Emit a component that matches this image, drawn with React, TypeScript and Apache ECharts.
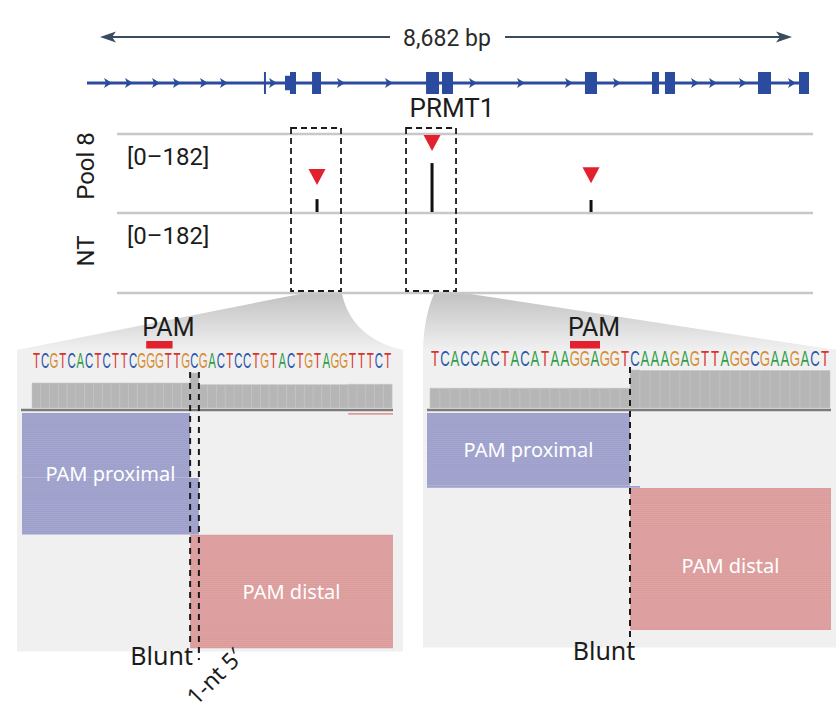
import React, { useEffect, useRef } from "react";
import * as echarts from "echarts";

// ---------------- data ----------------
const GENE_NAME = "PRMT1";
const GENE_LENGTH = 8682; // bp
// exon blocks along the gene (bp); kind: 0 = marker line, 1 = UTR, 2 = coding
const EXON_START = [2134, 2381, 2441, 2706, 4077, 4269, 5988, 6794, 6950, 8069, 8562];
const EXON_END = [2146, 2441, 2513, 2814, 4233, 4401, 6133, 6878, 7071, 8225, 8682];
const EXON_KIND = [0, 1, 2, 2, 2, 2, 2, 2, 2, 2, 2];
// strand direction marks along introns (bp)
const STRAND_MARKS = [253, 505, 830, 1082, 1407, 1647, 2237, 3054, 3632, 4642, 5219, 5796, 6373, 7311, 7528, 7888, 8478];

const TRACK_NAMES = ["Pool 8", "NT"];
const TRACK_RANGE = [0, 182];
const SITE_POS = [2766, 4149, 6061]; // bp
const POOL8_DEPTH = [32, 115, 30];
const NT_DEPTH = [0, 0, 0];
const MARKER_LEVEL = [83, 161, 87];
const ZOOMED_SITES = [0, 1];

const LEFT_SEQ = "TCGTCACTCTTCGGGTTGCGACTCCTGTACTGTAGGTTTCT";
const RIGHT_SEQ = "TCACCACTACATAAGGAGGTCAAAGAGTTAGGCGAAGACT";
const LEFT_PAM = [13, 16];
const RIGHT_PAM = [14, 17];
const LEFT_CUTS = [18, 19];
const RIGHT_CUTS = [20];
// read groups: [start base, end base, first row, row count, side (0 proximal, 1 distal)]
const LEFT_READS = [
  [-1.14, 18, 0, 32, 0],
  [-1.14, 19, 32, 28, 0],
  [18, 41.1, 60, 56, 1],
  [36, 41.1, 0, 1, 1],
];
const RIGHT_READS = [
  [-0.3, 20, 0, 36, 0],
  [-0.3, 21, 36, 1, 0],
  [20, 40.1, 37, 70, 1],
];
const SIDE_LABELS = ["PAM proximal", "PAM distal"];
const CUT_LABEL_BLUNT = "Blunt";
const CUT_LABEL_OVERHANG = "1-nt 5\u2032";

// ---------------- style ----------------
const BLUE = "#2a4b9e";
const RED = "#e3202d";
const ROW_H = 2.03;
const BASE_COLORS: Record<string, string> = { A: "#2e9d48", C: "#2d58ad", G: "#d88e35", T: "#d8342c" };
const SIDE_COLORS = ["#9ea0cc", "#dc9c9c"];
const TXT = "#1c1c1c";

function coverage(len: number, reads: number[][]) {
  const out: number[][] = [];
  for (let b = 0; b < len; b++) {
    let c = 0;
    reads.forEach((r) => {
      if (r[0] <= b && r[1] >= b + 1) c += r[3];
    });
    out.push([b, c]);
  }
  return out;
}

function sideLabels(reads: number[][]) {
  const res: number[][] = [];
  [0, 1].forEach((s) => {
    const g = reads.filter((r) => r[4] === s && r[3] > 1);
    const x0 = Math.min(...g.map((r) => r[0]));
    const x1 = Math.max(...g.map((r) => r[1]));
    const y0 = Math.min(...g.map((r) => r[2]));
    const y1 = Math.max(...g.map((r) => r[2] + r[3]));
    res.push([(x0 + x1) / 2, (y0 + y1) / 2, s]);
  });
  return res;
}

function quad(p0: number[], c: number[], p2: number[], n = 16) {
  const pts: number[][] = [];
  for (let i = 0; i <= n; i++) {
    const t = i / n;
    const a = (1 - t) * (1 - t), b = 2 * (1 - t) * t, d = t * t;
    pts.push([a * p0[0] + b * c[0] + d * p2[0], a * p0[1] + b * c[1] + d * p2[1]]);
  }
  return pts;
}

function txt(text: string, x: number, y: number, size: number, opts: any = {}) {
  const align = opts.align || "center";
  return {
    type: "text",
    x,
    y,
    rotation: opts.rotation || 0,
    z: 5,
    style: {
      text,
      fill: opts.fill || TXT,
      fontSize: size,
      fontFamily: opts.family || "Roboto",
      fontWeight: opts.weight || "normal",
      align,
      textAlign: align,
      verticalAlign: "middle",
      textVerticalAlign: "middle",
    },
  };
}

function buildOption() {
  const panels = [
    {
      seq: LEFT_SEQ, reads: LEFT_READS, pam: LEFT_PAM, cuts: LEFT_CUTS,
      xMin: -1.14, xMax: 41.1, left: 22, width: 371, covTop: 373, covH: 35,
      seqY: 360, sx: 0.52, cutTop: [372, 372], cutBottom: [646, 660],
    },
    {
      seq: RIGHT_SEQ, reads: RIGHT_READS, pam: RIGHT_PAM, cuts: RIGHT_CUTS,
      xMin: -0.3, xMax: 40.1, left: 427, width: 404, covTop: 370, covH: 38,
      seqY: 359, sx: 0.6, cutTop: [367], cutBottom: [645],
    },
  ];

  const grid: any[] = [
    { left: 87, top: 72, width: 722, height: 22 },
    { left: 87, top: 134, width: 722, height: 79 },
    { left: 87, top: 213, width: 722, height: 79 },
  ];
  const xAxis: any[] = [0, 1, 2].map((g) => ({ type: "value", gridIndex: g, min: 0, max: GENE_LENGTH, show: false }));
  const yAxis: any[] = [
    { type: "value", gridIndex: 0, min: 0, max: 1, show: false },
    { type: "value", gridIndex: 1, min: TRACK_RANGE[0], max: TRACK_RANGE[1], show: false },
    { type: "value", gridIndex: 2, min: TRACK_RANGE[0], max: TRACK_RANGE[1], show: false },
  ];

  const series: any[] = [
    {
      type: "line", xAxisIndex: 0, yAxisIndex: 0, silent: true, symbol: "none",
      data: [[0, 0.5], [GENE_LENGTH, 0.5]], lineStyle: { color: BLUE, width: 3 },
    },
    {
      type: "custom", xAxisIndex: 0, yAxisIndex: 0, clip: false, silent: true,
      data: EXON_START.map((s, i) => [s, EXON_END[i], EXON_KIND[i]]),
      renderItem: (_p: any, api: any) => {
        const s = api.value(0), e = api.value(1), k = api.value(2);
        const top = api.coord([s, 1])[1], bot = api.coord([s, 0])[1];
        let x0 = api.coord([s, 0.5])[0], x1 = api.coord([e, 0.5])[0];
        if (k === 0) { const c = (x0 + x1) / 2; x0 = c - 1; x1 = c + 1; }
        const inset = k === 1 ? (bot - top) * 0.17 : 0;
        return { type: "rect", shape: { x: x0, y: top + inset, width: x1 - x0, height: bot - top - 2 * inset }, style: { fill: BLUE } };
      },
    },
    {
      type: "custom", xAxisIndex: 0, yAxisIndex: 0, clip: false, silent: true,
      data: STRAND_MARKS.map((m) => [m, 0.5]),
      renderItem: (_p: any, api: any) => {
        const c = api.coord([api.value(0), 0.5]);
        const x = c[0], y = c[1];
        return { type: "polygon", shape: { points: [[x - 4, y - 5], [x + 4, y], [x - 4, y + 5], [x - 2, y]] }, style: { fill: BLUE } };
      },
    },
  ];

  const barRender = (_p: any, api: any) => {
    const v = api.value(1);
    if (v <= 0) return null;
    const b = api.coord([api.value(0), 0]);
    const t = api.coord([api.value(0), v]);
    return { type: "rect", shape: { x: b[0] - 1.5, y: t[1], width: 3, height: b[1] - t[1] - 1 }, style: { fill: "#111" } };
  };
  series.push(
    { type: "custom", xAxisIndex: 1, yAxisIndex: 1, clip: false, silent: true, data: SITE_POS.map((p, i) => [p, POOL8_DEPTH[i]]), renderItem: barRender },
    { type: "custom", xAxisIndex: 2, yAxisIndex: 2, clip: false, silent: true, data: SITE_POS.map((p, i) => [p, NT_DEPTH[i]]), renderItem: barRender },
    {
      type: "scatter", xAxisIndex: 1, yAxisIndex: 1, silent: true, symbol: "triangle", symbolRotate: 180,
      symbolSize: [17, 16], itemStyle: { color: RED, opacity: 1 },
      data: SITE_POS.map((p, i) => [p, MARKER_LEVEL[i]]),
    },
    {
      type: "custom", xAxisIndex: 1, yAxisIndex: 1, clip: false, silent: true, z: 6,
      data: ZOOMED_SITES.map((i) => [SITE_POS[i], TRACK_RANGE[1]]),
      renderItem: (_p: any, api: any) => {
        const c = api.coord([api.value(0), api.value(1)]);
        const top = c[1] - 6;
        return { type: "rect", shape: { x: c[0] - 26, y: top, width: 50, height: 291 - top }, style: { fill: "none", stroke: "#1a1a1a", lineWidth: 1.8, lineDash: [6, 4] } };
      },
    }
  );

  panels.forEach((P, pi) => {
    const gCov = 3 + pi * 2, gReads = 4 + pi * 2;
    const totalRows = Math.max(...P.reads.map((r) => r[2] + r[3]));
    const cov = coverage(P.seq.length, P.reads);
    const maxCov = Math.max(...cov.map((c) => c[1]));
    grid.push({ left: P.left, top: P.covTop, width: P.width, height: P.covH });
    grid.push({ left: P.left, top: 413, width: P.width, height: totalRows * ROW_H });
    xAxis.push({ type: "value", gridIndex: gCov, min: P.xMin, max: P.xMax, show: false });
    xAxis.push({ type: "value", gridIndex: gReads, min: P.xMin, max: P.xMax, show: false });
    yAxis.push({ type: "value", gridIndex: gCov, min: 0, max: maxCov, show: false });
    yAxis.push({ type: "value", gridIndex: gReads, min: 0, max: totalRows, inverse: true, show: false });

    series.push(
      {
        type: "custom", xAxisIndex: gCov, yAxisIndex: gCov, clip: false, silent: true, data: cov,
        renderItem: (_p: any, api: any) => {
          const a = api.coord([api.value(0), api.value(1)]);
          const b = api.coord([api.value(0) + 1, 0]);
          return { type: "rect", shape: { x: a[0], y: a[1], width: b[0] - a[0], height: b[1] - a[1] }, style: { fill: "#b6b6b6", stroke: "#c4c4c4", lineWidth: 0.5 } };
        },
      },
      {
        type: "custom", xAxisIndex: gCov, yAxisIndex: gCov, clip: false, silent: true,
        data: P.seq.split("").map((_c, i) => [i, 0]),
        renderItem: (_p: any, api: any) => {
          const i = api.value(0);
          const ch = P.seq[i];
          const x = api.coord([i + 0.5, 0])[0];
          return {
            type: "text", x, y: P.seqY, scaleX: P.sx,
            style: { text: ch, fill: BASE_COLORS[ch], fontSize: 22, fontFamily: "Liberation Sans", align: "center", verticalAlign: "middle" },
          };
        },
      },
      {
        type: "custom", xAxisIndex: gCov, yAxisIndex: gCov, clip: false, silent: true,
        data: [[P.pam[0], P.pam[1]]],
        renderItem: (_p: any, api: any) => {
          const x0 = api.coord([api.value(0), 0])[0], x1 = api.coord([api.value(1), 0])[0];
          return {
            type: "group",
            children: [
              { type: "rect", shape: { x: x0, y: 341, width: x1 - x0, height: 7.5 }, style: { fill: RED } },
              { type: "text", x: (x0 + x1) / 2 + 9, y: 327, style: { text: "PAM", fill: TXT, fontSize: 25, fontFamily: "Roboto", align: "center", verticalAlign: "middle" } },
            ],
          };
        },
      },
      {
        type: "custom", xAxisIndex: gReads, yAxisIndex: gReads, clip: false, silent: true, data: P.reads,
        renderItem: (_p: any, api: any) => {
          const s = api.value(0), e = api.value(1), r0 = api.value(2), n = api.value(3), side = api.value(4);
          const a = api.coord([s, r0]);
          const b = api.coord([e, r0 + n]);
          const children: any[] = [
            { type: "rect", shape: { x: a[0], y: a[1], width: b[0] - a[0], height: Math.max(1.2, b[1] - a[1] - 0.3) }, style: { fill: SIDE_COLORS[side] } },
          ];
          for (let k = 1; k < n; k++) {
            const y = api.coord([s, r0 + k])[1];
            children.push({ type: "line", shape: { x1: a[0], y1: y, x2: b[0], y2: y }, style: { stroke: "#ffffff", opacity: 0.13, lineWidth: 0.6 } });
          }
          return { type: "group", children };
        },
      },
      {
        type: "custom", xAxisIndex: gReads, yAxisIndex: gReads, clip: false, silent: true, z: 8,
        data: sideLabels(P.reads),
        renderItem: (_p: any, api: any) => {
          const c = api.coord([api.value(0), api.value(1)]);
          return { type: "text", x: c[0], y: c[1] + (pi === 1 && api.value(2) === 1 ? 6 : 0), style: { text: SIDE_LABELS[api.value(2)], fill: "#ffffff", fontSize: 20, fontFamily: "Noto Sans", align: "center", verticalAlign: "middle" } };
        },
      },
      {
        type: "custom", xAxisIndex: gCov, yAxisIndex: gCov, clip: false, silent: true, z: 10,
        data: P.cuts.map((c, i) => [c, i]),
        renderItem: (_p: any, api: any) => {
          const x = api.coord([api.value(0), 0])[0];
          const i = api.value(1);
          return { type: "line", shape: { x1: x, y1: P.cutTop[i], x2: x, y2: P.cutBottom[i] }, style: { stroke: "#1a1a1a", lineWidth: 2, lineDash: [6, 5] } };
        },
      }
    );
  });

  // ---- decorations ----
  const funnelFill = { type: "linear", x: 0, y: 0, x2: 0, y2: 1, colorStops: [{ offset: 0, color: "#c2c2c2" }, { offset: 1, color: "#f0f0f0" }] };
  const leftFunnel = [[300, 294], ...quad([342, 294], [352, 338], [403, 350]), [17, 350]];
  const rightFunnel = [[470, 294], [836, 350], ...quad([423, 350], [424, 316], [434, 294])];
  const arrowColor = "#3a4b60";

  const graphic: any[] = [
    { type: "polygon", z: 0, shape: { points: leftFunnel }, style: { fill: funnelFill } },
    { type: "polygon", z: 0, shape: { points: rightFunnel }, style: { fill: funnelFill } },
    { type: "rect", z: 0, shape: { x: 17, y: 349.5, width: 386, height: 302 }, style: { fill: "#f0f0f0" } },
    { type: "rect", z: 0, shape: { x: 423, y: 349.5, width: 413, height: 298 }, style: { fill: "#f0f0f0" } },
    { type: "line", z: 1, shape: { x1: 21, y1: 410, x2: 393, y2: 410 }, style: { stroke: "#7b7b7b", lineWidth: 2.5 } },
    { type: "line", z: 1, shape: { x1: 427, y1: 410, x2: 831, y2: 410 }, style: { stroke: "#7b7b7b", lineWidth: 2.5 } },
    // top length arrow
    { type: "line", z: 1, shape: { x1: 108, y1: 37, x2: 390, y2: 37 }, style: { stroke: arrowColor, lineWidth: 2 } },
    { type: "line", z: 1, shape: { x1: 505, y1: 37, x2: 784, y2: 37 }, style: { stroke: arrowColor, lineWidth: 2 } },
    { type: "polygon", z: 1, shape: { points: [[100, 37], [116, 31.5], [112, 37], [116, 42.5]] }, style: { fill: arrowColor } },
    { type: "polygon", z: 1, shape: { points: [[792, 37], [776, 31.5], [780, 37], [776, 42.5]] }, style: { fill: arrowColor } },
    txt(GENE_LENGTH.toLocaleString("en-US") + " bp", 447, 38, 23, { fill: "#2a2a2a" }),
    txt(GENE_NAME, 452, 108, 26),
    // track lines
    ...[134, 213, 293].map((y) => ({ type: "line", z: 1, shape: { x1: 117, y1: y, x2: 813, y2: y }, style: { stroke: "#c8c8c8", lineWidth: 2.5 } })),
    txt(TRACK_NAMES[0], 86, 166, 24, { rotation: Math.PI / 2 }),
    txt(TRACK_NAMES[1], 86, 251, 24, { rotation: Math.PI / 2 }),
    txt(`[${TRACK_RANGE[0]}\u2013${TRACK_RANGE[1]}]`, 127, 157, 24, { align: "left" }),
    txt(`[${TRACK_RANGE[0]}\u2013${TRACK_RANGE[1]}]`, 127, 236, 24, { align: "left" }),
    // cut labels
    txt(CUT_LABEL_BLUNT, 193, 655, 25, { align: "right", family: "Noto Sans" }),
    txt(CUT_LABEL_BLUNT, 604, 650, 25, { family: "Noto Sans" }),
    txt(CUT_LABEL_OVERHANG, 214, 676, 23, { family: "Noto Sans", rotation: Math.PI / 4 }),
  ];

  return {
    animation: false,
    backgroundColor: "#ffffff",
    grid,
    xAxis,
    yAxis,
    series,
    graphic,
  };
}

export default function App() {
  const ref = useRef<HTMLDivElement>(null);
  useEffect(() => {
    const chart = echarts.init(ref.current as HTMLDivElement, null, { renderer: "svg" });
    chart.setOption(buildOption() as any);
    return () => chart.dispose();
  }, []);
  return <div ref={ref} style={{ position: "absolute", left: 0, top: 0, width: 840, height: 715 }} />;
}
